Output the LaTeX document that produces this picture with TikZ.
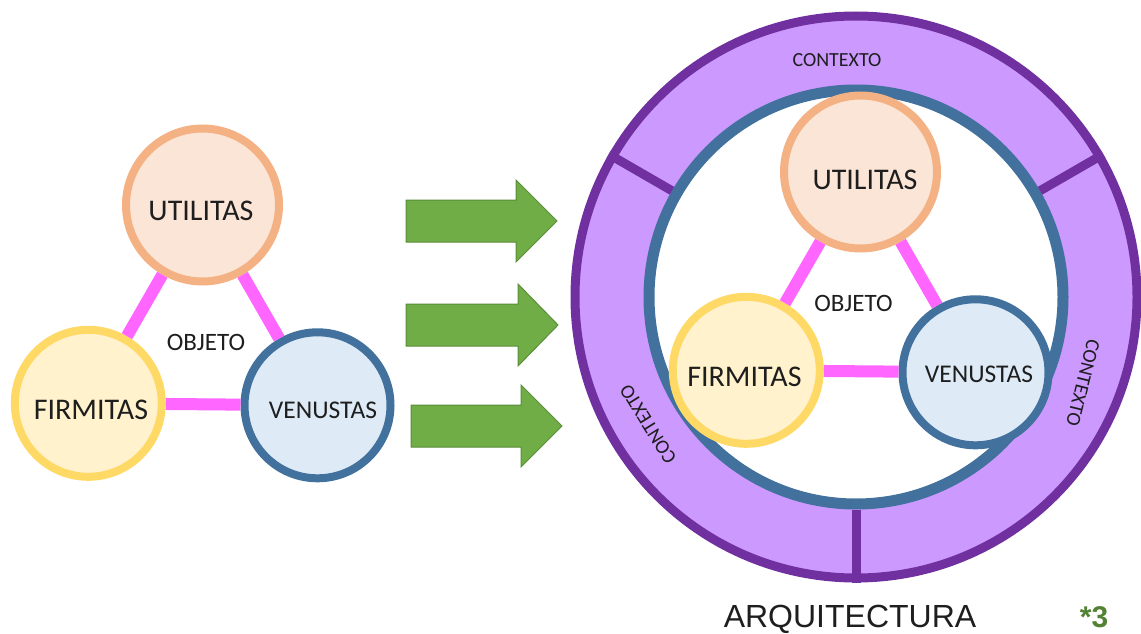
\documentclass[tikz,border=0pt]{standalone}
\usepackage{fontspec}
\setmainfont{Carlito}
\newfontfamily\arialf{Liberation Sans}
\usetikzlibrary{calc}
\definecolor{uFill}{HTML}{FBE5D6}\definecolor{uLine}{HTML}{F4B183}
\definecolor{fFill}{HTML}{FFF2CC}\definecolor{fLine}{HTML}{FFD966}
\definecolor{vFill}{HTML}{DEEBF7}\definecolor{vLine}{HTML}{41719C}
\definecolor{pinkL}{HTML}{FF66FF}
\definecolor{arrFill}{HTML}{70AD47}\definecolor{arrLine}{HTML}{5A8E38}
\definecolor{ringFill}{HTML}{CC99FF}\definecolor{ringLine}{HTML}{7030A0}
\definecolor{txt}{HTML}{1E1E1E}
\definecolor{noteG}{HTML}{548235}
\begin{document}
\begin{tikzpicture}[x=1pt,y=-1pt,
  disc/.style={circle, inner sep=0pt, line width=8pt},
  udisc/.style={disc, fill=uFill, draw=uLine, minimum size=153pt},
  fdisc/.style={disc, fill=fFill, draw=fLine, minimum size=147pt},
  vdisc/.style={disc, fill=vFill, draw=vLine, minimum size=146pt},
  link/.style={pinkL, line width=12pt},
  bigtxt/.style={font=\fontsize{30}{36}\selectfont, text=txt, inner sep=0pt, anchor=base},
  midtxt/.style={font=\fontsize{25.5}{30}\selectfont, text=txt, inner sep=0pt, anchor=base},
  objtxt/.style={font=\fontsize{25}{30}\selectfont, text=txt, inner sep=0pt, anchor=base},
  ctxtxt/.style={font=\fontsize{20}{24}\selectfont, text=txt, inner sep=0pt},
  blockarrow/.style={fill=arrFill, draw=arrLine, line width=1pt, line join=miter},
]
\useasboundingbox (0,0) rectangle (1141,634);

% ---------- left triad ----------
\node[udisc] (uL) at (202.5,205) {};
\node[fdisc] (fL) at (88.3,403.3) {};
\node[vdisc] (vL) at (317.5,405.3) {};
\draw[link] (uL) -- (fL);
\draw[link] (uL) -- (vL);
\draw[link] (fL) -- (vL);
\node[bigtxt] (uLt) at (201,220) {UTILITAS};
\node[bigtxt] (fLt) at (91,419.3) {FIRMITAS};
\node[midtxt] (vLt) at (323,418.3) {VENUSTAS};
\node[objtxt] (oLt) at (206,350.7) {OBJETO};

% ---------- arrows ----------
\foreach \xa/\xb/\xt/\yc in {406/516/557/221, 406/518/558/325, 411/521/562/426}{
  \draw[blockarrow] (\xa,{\yc-21}) -- (\xb,{\yc-21}) -- (\xb,{\yc-41}) -- (\xt,\yc)
     -- (\xb,{\yc+41}) -- (\xb,{\yc+21}) -- (\xa,{\yc+21}) -- cycle;
}

% ---------- right: context ring ----------
\node[circle, inner sep=0pt, minimum size=562pt, fill=ringFill, draw=ringLine, line width=9pt] (ring) at (856,297) {};
\node[circle, inner sep=0pt, minimum size=414pt, fill=white, draw=vLine, line width=11pt] (core) at (856,297) {};
\draw[ringLine, line width=9pt] (core.150) -- (ring.150);
\draw[ringLine, line width=9pt] (core.30) -- (ring.30);
\draw[ringLine, line width=9pt] (core.270) -- (ring.270);
\node[ctxtxt] (cTop) at (837,60) {CONTEXTO};
\node[ctxtxt, rotate=122] (cLeft) at (648,424) {CONTEXTO};
\node[ctxtxt, rotate=-104] (cRight) at (1083,383) {CONTEXTO};

% ---------- right triad ----------
\node[udisc] (uR) at (860.5,172) {};
\node[fdisc] (fR) at (746.3,370.3) {};
\node[vdisc] (vR) at (975.5,372.3) {};
\draw[link] (uR) -- (fR);
\draw[link] (uR) -- (vR);
\draw[link] (fR) -- (vR);
\node[bigtxt] (uRt) at (865,189) {UTILITAS};
\node[bigtxt] (fRt) at (744.5,386) {FIRMITAS};
\node[midtxt] (vRt) at (979,382) {VENUSTAS};
\node[objtxt] (oRt) at (853.5,311) {OBJETO};

% ---------- caption ----------
\node[font=\arialf\fontsize{32}{38}\selectfont, text=txt, inner sep=0pt, anchor=base] (arq) at (850,627) {ARQUITECTURA};
\node[font=\arialf\bfseries\fontsize{30}{36}\selectfont, text=noteG, inner sep=0pt, anchor=base] (note) at (1094,627) {*3};
\end{tikzpicture}
\end{document}
